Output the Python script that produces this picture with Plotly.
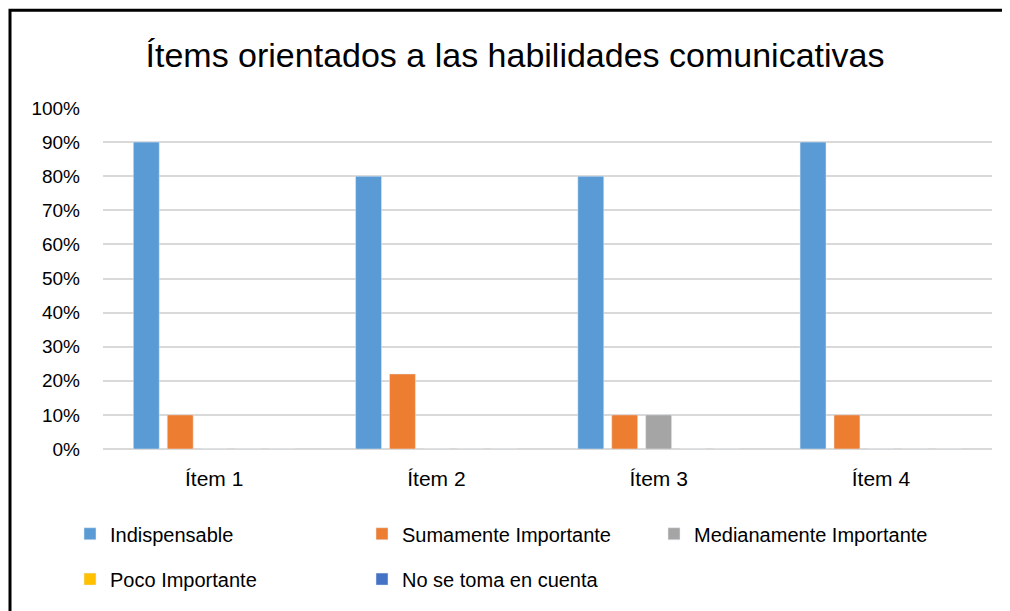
import plotly.graph_objects as go

# datos
items = ["Ítem 1", "Ítem 2", "Ítem 3", "Ítem 4"]
indispensable = [0.90, 0.80, 0.80, 0.90]
sumamente = [0.10, 0.22, 0.10, 0.10]
medianamente = [0.0, 0.0, 0.10, 0.0]
poco = [0.0, 0.0, 0.0, 0.0]
no_se_toma = [0.0, 0.0, 0.0, 0.0]

series = [
    ("Indispensable", indispensable, "#5B9BD5", "legend"),
    ("Sumamente Importante", sumamente, "#ED7D31", "legend"),
    ("Medianamente Importante", medianamente, "#A5A5A5", "legend"),
    ("Poco Importante", poco, "#FFC000", "legend2"),
    ("No se toma en cuenta", no_se_toma, "#4472C4", "legend2"),
]

# la pagina html deja 8px de margen en el body
OFF = 8
W, H = 1010 - OFF, 611 - OFF
# posiciones en pixeles de la pagina
PLOT_L, PLOT_R, PLOT_T, PLOT_B = 103, 992, 107.5, 449.5
ML = PLOT_L - OFF
MR = W - (PLOT_R - OFF)
MT = PLOT_T - OFF
MB = H - (PLOT_B - OFF)
PW = W - ML - MR
PH = H - MT - MB


def px_x(v):
    return (v - OFF - ML) / PW


def px_y(v):
    return (H - MB - (v - OFF)) / PH


FONT = "Liberation Sans, Arial, sans-serif"

fig = go.Figure()
for name, vals, color, leg in series:
    fig.add_trace(go.Bar(x=items, y=vals, name=name, marker_color=color, legend=leg))

legend_common = dict(
    orientation="h",
    xanchor="left",
    yanchor="middle",
    entrywidth=247,
    entrywidthmode="pixels",
    font=dict(family=FONT, size=20, color="#000000"),
    bgcolor="rgba(0,0,0,0)",
    traceorder="normal",
)

fig.update_layout(
    width=W,
    height=H,
    margin=dict(l=ML, r=MR, t=MT, b=MB),
    paper_bgcolor="white",
    plot_bgcolor="white",
    font=dict(family=FONT, color="#000000"),
    title=dict(
        text="Ítems orientados a las habilidades comunicativas",
        x=px_x(515), xref="paper", xanchor="center",
        y=1 - (55 - OFF) / H, yanchor="middle",
        font=dict(family=FONT, size=34, color="#000000"),
    ),
    barmode="group",
    bargap=0.237,
    bargroupgap=0.235,
    legend=dict(x=px_x(70), y=px_y(534.5), **legend_common),
    legend2=dict(x=px_x(70), y=px_y(580), **legend_common),
    xaxis=dict(
        showgrid=False,
        showline=False,
        ticks="",
        tickfont=dict(family=FONT, size=21, color="#000000"),
        ticklabelstandoff=15,
    ),
    yaxis=dict(
        range=[0, 1],
        dtick=0.1,
        tickformat=".0%",
        showgrid=True,
        gridcolor="#D9D9D9",
        gridwidth=2,
        zeroline=True,
        zerolinecolor="#D9D9D9",
        zerolinewidth=2,
        showline=False,
        ticks="",
        tickfont=dict(family=FONT, size=19, color="#000000"),
        ticklabelstandoff=22,
    ),
    shapes=[
        dict(
            type="rect", xref="paper", yref="paper",
            x0=px_x(10), x1=px_x(1040),
            y0=px_y(640), y1=px_y(9.5),
            line=dict(color="#000000", width=3),
            fillcolor="rgba(0,0,0,0)",
            layer="above",
        )
    ],
)

fig.write_html("out.html")
